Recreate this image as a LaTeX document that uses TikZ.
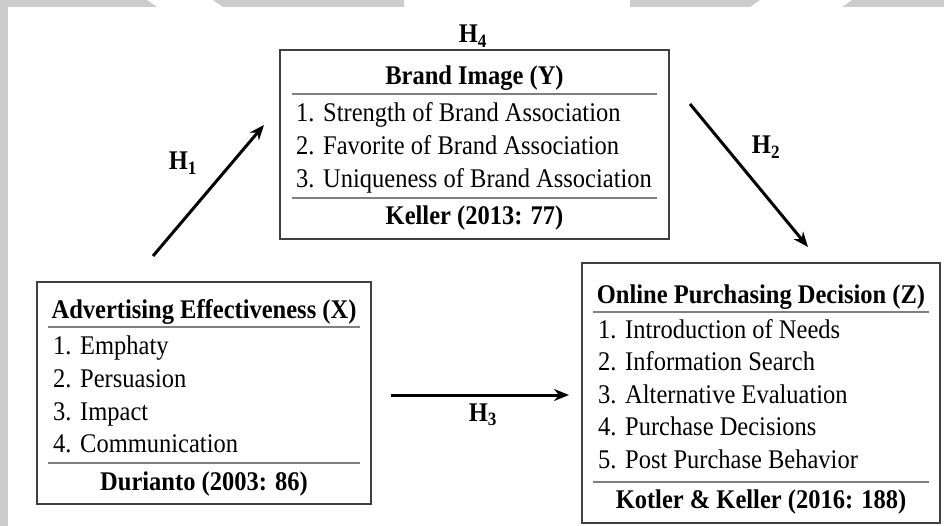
\documentclass[tikz,border=0pt]{standalone}
\usepackage{fontspec}
\setmainfont{Liberation Serif}
\usepackage{graphicx}
\usetikzlibrary{arrows.meta}
\definecolor{bggray}{HTML}{CCCCCC}
\newcommand\vsc[1]{\scalebox{1}[1.1]{#1}}
\newcommand\itm[2]{\vsc{\makebox[27pt][l]{#1}#2}}
\begin{document}
\begin{tikzpicture}[x=1pt,y=-1pt,
  txt/.style={inner sep=0pt, font=\fontsize{24.5}{29}\selectfont},
  item/.style={txt, anchor=base west},
  ttl/.style={inner sep=0pt, anchor=base, font=\fontsize{24.5}{29}\selectfont\bfseries},
  boxframe/.style={draw=black!75, line width=2pt, inner sep=0pt},
  sepline/.style={draw=black!50, line width=2.4pt},
  arr/.style={line width=3pt, -{Stealth[length=15pt,width=12pt]}},
  hlab/.style={inner sep=0pt, anchor=base, font=\fontsize{24.5}{29}\selectfont\bfseries}]
\useasboundingbox (0,0) rectangle (944,526);
% background strips
\fill[bggray] (0,0) rectangle (8,526);
\fill[bggray] (0,0) -- (147,0) -- (157,7) -- (0,7) -- cycle;
\fill[bggray] (213,0) -- (404,0) -- (404,7) -- (223,7) -- cycle;
\fill[bggray] (630,0) -- (760,0) -- (750,7) -- (630,7) -- cycle;
\fill[bggray] (852,0) -- (944,0) -- (944,7) -- (842,7) -- cycle;

% Brand Image box
\node[boxframe, minimum width=389pt, minimum height=189pt] (Ybox) at (474.5,144.5) {};
\node[ttl] (Yt) at (474.5,85) {\vsc{Brand Image (Y)}};
\draw[sepline] (292,94) -- (657,94);
\node[item] (Y1) at (296,121.5) {\itm{1.}{Strength of Brand Association}};
\node[item] (Y2) at (296,155) {\itm{2.}{Favorite of Brand Association}};
\node[item] (Y3) at (296,188) {\itm{3.}{Uniqueness of Brand Association}};
\draw[sepline] (292,198) -- (657,198);
\node[ttl] (Ys) at (474.5,225) {\vsc{Keller (2013: 77)}};

% Advertising box
\node[boxframe, minimum width=334pt, minimum height=222pt] (Xbox) at (204,393) {};
\node[ttl] (Xt) at (204,318) {\vsc{Advertising Effectiveness (X)}};
\draw[sepline] (48,327) -- (360,327);
\node[item] (X1) at (53,354) {\itm{1.}{Emphaty}};
\node[item] (X2) at (53,387) {\itm{2.}{Persuasion}};
\node[item] (X3) at (53,420) {\itm{3.}{Impact}};
\node[item] (X4) at (53,452) {\itm{4.}{Communication}};
\draw[sepline] (48,463) -- (360,463);
\node[ttl] (Xs) at (204,490) {\vsc{Durianto (2003: 86)}};

% Online Purchasing box
\node[boxframe, minimum width=358pt, minimum height=260pt] (Zbox) at (761,393) {};
\node[ttl] (Zt) at (761,303) {\vsc{Online Purchasing Decision (Z)}};
\draw[sepline] (593,312) -- (929,312);
\node[item] (Z1) at (598,338) {\itm{1.}{Introduction of Needs}};
\node[item] (Z2) at (598,370.5) {\itm{2.}{Information Search}};
\node[item] (Z3) at (598,403) {\itm{3.}{Alternative Evaluation}};
\node[item] (Z4) at (598,435.5) {\itm{4.}{Purchase Decisions}};
\node[item] (Z5) at (598,468) {\itm{5.}{Post Purchase Behavior}};
\draw[sepline] (593,482) -- (929,482);
\node[ttl] (Zs) at (761,508) {\vsc{Kotler \& Keller (2016: 188)}};

% arrows
\coordinate (a1s) at (153,256);
\coordinate (a1e) at (264,125);
\coordinate (a2s) at (690,104);
\coordinate (a2e) at (808,247);
\coordinate (a3s) at (391,395);
\coordinate (a3e) at (569,395);
\draw[arr] (a1s) -- (a1e);
\draw[arr] (a2s) -- (a2e);
\draw[arr] (a3s) -- (a3e);

% hypothesis labels
\node[hlab] (H1) at (183,170) {\vsc{H\textsubscript{1}}};
\node[hlab] (H2) at (766,154) {\vsc{H\textsubscript{2}}};
\node[hlab] (H3) at (483,421) {\vsc{H\textsubscript{3}}};
\node[hlab] (H4) at (473,43) {\vsc{H\textsubscript{4}}};
\end{tikzpicture}
\end{document}
